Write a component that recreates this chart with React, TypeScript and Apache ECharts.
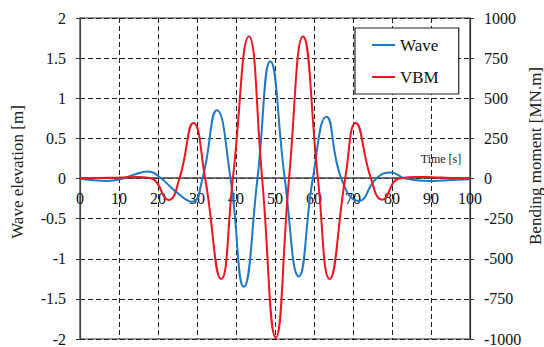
import React, { useEffect, useRef } from "react";
import * as echarts from "echarts";

const FONT = "Liberation Serif";

// Time axis ticks
const timeTicks = [0, 10, 20, 30, 40, 50, 60, 70, 80, 90, 100];

// Wave elevation [m]
const waveTime = [0, 3, 7, 11, 14, 17.5, 20.6, 24.5, 28.7, 31.4, 35.1, 38.6, 42.0, 45.5, 48.8, 52.5, 56.1, 59.7, 63.2, 67.0, 71.5, 76.0, 79.7, 83.5, 90.5, 95, 100];
const waveValue = [0, -0.02, -0.03, 0, 0.05, 0.086, 0.01, -0.16, -0.29, 0, 0.85, 0, -1.35, 0, 1.46, 0, -1.22, 0, 0.77, 0, -0.28, 0, 0.074, 0, -0.03, -0.02, -0.01];

// Vertical bending moment [MN.m]
const vbmTime = [0, 5, 10, 15, 18.4, 22.7, 25.5, 29.1, 32.1, 36.2, 39.2, 43.3, 46.7, 50.2, 53.6, 57.2, 61.0, 64.0, 68.0, 70.7, 74.6, 77.5, 81.8, 86, 90, 95, 100];
const vbmValue = [0, 3, 6, 10, 0, -134, 0, 346, 0, -626, 0, 885, 0, -990, 0, 885, 0, -626, 0, 346, 0, -132, 0, 10, 8, 3, 0];

const zip = (a: number[], b: number[]) => a.map((t, i) => [t, b[i]]);

export default function App() {
  const ref = useRef<HTMLDivElement>(null);
  useEffect(() => {
    if (!ref.current) return;
    const chart = echarts.init(ref.current, undefined, { renderer: "svg" });
    const dashed = { show: true, lineStyle: { color: "#222", type: [5, 3] as any, width: 1 } };
    const lbl = { fontFamily: FONT, fontSize: 16, color: "#111" };
    const fmt = (v: number) => String(v);
    chart.setOption({
      animation: false,
      backgroundColor: "#fff",
      textStyle: { fontFamily: FONT, fontSize: 16 },
      grid: { left: 80, right: 74, top: 18, bottom: 7, show: true, borderColor: "#333", borderWidth: 1.2, backgroundColor: "transparent" },
      legend: {
        orient: "vertical",
        left: 355,
        top: 28,
        padding: [8, 20, 8, 17],
        itemGap: 14,
        itemWidth: 23,
        itemHeight: 2,
        icon: "rect",
        backgroundColor: "#fff",
        borderColor: "#222",
        borderWidth: 1.2,
        textStyle: { fontFamily: FONT, fontSize: 17, color: "#111", lineHeight: 18 },
        data: ["Wave", "VBM"],
      },
      xAxis: {
        type: "value",
        position: "bottom",
        min: timeTicks[0],
        max: timeTicks[timeTicks.length - 1],
        interval: 10,
        offset: -161,
        axisLine: { onZero: false, lineStyle: { color: "#444", width: 1.5 } },
        axisTick: { show: false },
        axisLabel: { ...lbl, margin: 12, formatter: fmt },
        splitLine: dashed,
      },
      yAxis: [
        {
          type: "value",
          min: -2,
          max: 2,
          interval: 0.5,
          position: "left",
          axisLine: { show: true, onZero: false, lineStyle: { color: "#444", width: 1.2 } },
          axisTick: { show: true, length: 4, lineStyle: { color: "#333" } },
          axisLabel: { ...lbl, margin: 14, formatter: fmt },
          splitLine: dashed,
        },
        {
          type: "value",
          min: -1000,
          max: 1000,
          interval: 250,
          position: "right",
          axisLine: { show: true, onZero: false, lineStyle: { color: "#333", width: 1.2 } },
          axisTick: { show: true, length: 4, lineStyle: { color: "#333" } },
          axisLabel: { ...lbl, margin: 14, formatter: fmt },
          splitLine: { show: false },
        },
      ],
      graphic: [
        { type: "text", x: 441, y: 159, style: { text: "Time [s]", font: `12px ${FONT}`, fill: "#222", textAlign: "center", textVerticalAlign: "middle" } },
        { type: "text", x: 17, y: 172, rotation: Math.PI / 2, style: { text: "Wave elevation [m]", font: `17px ${FONT}`, fill: "#222", textAlign: "center", textVerticalAlign: "middle" } },
        { type: "text", x: 535, y: 156, rotation: Math.PI / 2, style: { text: "Bending moment [MN.m]", font: `17px ${FONT}`, fill: "#222", textAlign: "center", textVerticalAlign: "middle" } },
      ],
      series: [
        {
          name: "Wave",
          type: "line",
          yAxisIndex: 0,
          smooth: 0.5,
          symbol: "none",
          lineStyle: { color: "#1f77c9", width: 2 },
          itemStyle: { color: "#1f77c9" },
          data: zip(waveTime, waveValue),
          z: 3,
        },
        {
          name: "VBM",
          type: "line",
          yAxisIndex: 1,
          smooth: 0.5,
          symbol: "none",
          lineStyle: { color: "#f0141e", width: 2 },
          itemStyle: { color: "#f0141e" },
          data: zip(vbmTime, vbmValue),
          z: 4,
        },
      ],
    });
    return () => chart.dispose();
  }, []);
  return <div ref={ref} style={{ position: "fixed", left: 0, top: 0, width: 544, height: 347 }} />;
}
